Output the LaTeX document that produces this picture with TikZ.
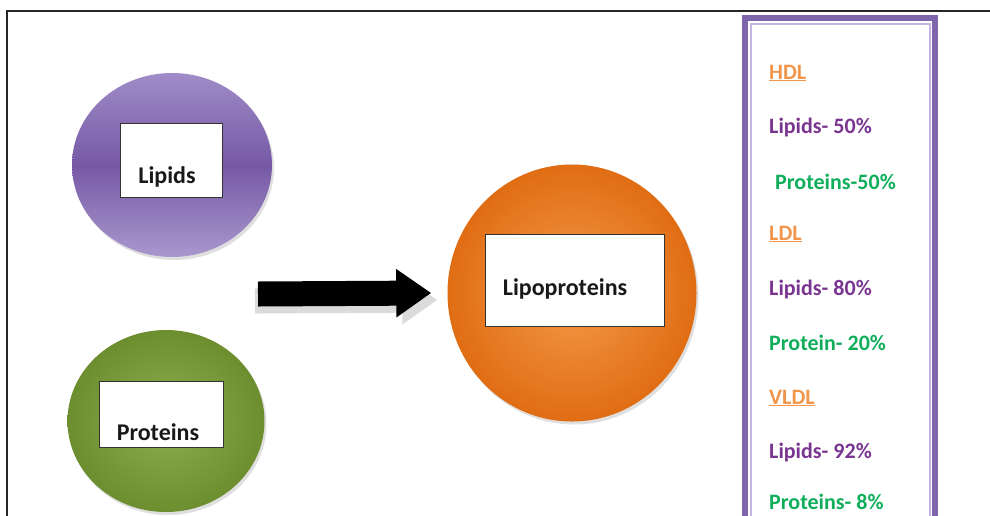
\documentclass[tikz,border=0pt]{standalone}
\usepackage{fontspec}
\setmainfont{Carlito}
\usepackage{xcolor}
\usetikzlibrary{arrows.meta,shapes.geometric,shadows}
\definecolor{lipidlight}{HTML}{A08CC8}
\definecolor{lipiddark}{HTML}{7659A6}
\definecolor{protlight}{HTML}{8DAF4E}
\definecolor{protdark}{HTML}{6C8E2E}
\definecolor{lipolight}{HTML}{F49A48}
\definecolor{lipodark}{HTML}{E06D14}
\definecolor{framepurple}{HTML}{7F66AC}
\definecolor{framelight}{HTML}{C4B4E0}
\definecolor{hdlorange}{HTML}{F0954A}
\definecolor{lippurple}{HTML}{7A3590}
\definecolor{progreen}{HTML}{0FAE5A}

\begin{document}
\begin{tikzpicture}[x=1pt,y=-1pt,
  ball/.style={ellipse,inner sep=0pt,drop shadow={opacity=.25,shadow xshift=2pt,shadow yshift=-3pt}},
  namebox/.style={draw=black!80,line width=.9pt,fill=white,inner sep=0pt},
  nametext/.style={font=\bfseries\fontsize{24}{28}\selectfont,inner sep=0pt,text=black!90},
  listentry/.style={font=\bfseries\fontsize{22}{26}\selectfont,inner sep=0pt,anchor=west}]
\clip (0,0) rectangle (990,515);
\draw [line width=1.3pt,black!85] (7,520) -- (7,11) -- (995,11);

\node [ball,minimum width=200pt,minimum height=184pt,top color=lipidlight,bottom color=lipidlight!90,middle color=lipiddark] (lipids) at (172,165) {};
\node [ball,minimum width=197pt,minimum height=182pt,inner color=protlight,outer color=protdark] (proteins) at (166,421) {};
\node [ball,minimum width=249pt,minimum height=257pt,inner color=lipolight,outer color=lipodark] (lipo) at (572,293) {};

\node [namebox,minimum width=102pt,minimum height=74pt] (lipidsbox) at (171,160) {};
\node [nametext] (lipidsname) at (167,177) {Lipids};
\node [namebox,minimum width=124pt,minimum height=66pt] (proteinsbox) at (161,414) {};
\node [nametext] (proteinsname) at (158,432) {Proteins};
\node [namebox,minimum width=179pt,minimum height=92pt] (lipobox) at (574.5,280) {};
\node [nametext] (liponame) at (565,289) {Lipoproteins};

\coordinate (arrowtail) at (258,294);
\coordinate (arrowtip) at ([xshift=-16pt]lipo.west);
\draw [black!14,line width=25pt,-{Triangle[length=35pt,width=46pt]}] ([shift={(-3pt,-7pt)}]arrowtail) -- ([shift={(6pt,-7pt)}]arrowtip);
\draw [black,line width=25pt,-{Triangle[length=35pt,width=46pt]}] (arrowtail) -- (arrowtip);

\draw [line width=6pt,framepurple] (745,18) rectangle (935,540);
\draw [line width=2pt,framelight] (750.5,23.5) rectangle (929.5,540);

\node [listentry,text=hdlorange] (hdl) at (769,73) {\underline{HDL}};
\node [listentry,text=lippurple] (hdllip) at (769,128) {Lipids- 50\%};
\node [listentry,text=progreen] (hdlpro) at (775,182) {Proteins-50\%};
\node [listentry,text=hdlorange] (ldl) at (769,234) {\underline{LDL}};
\node [listentry,text=lippurple] (ldllip) at (769,290) {Lipids- 80\%};
\node [listentry,text=progreen] (ldlpro) at (769,343) {Protein- 20\%};
\node [listentry,text=hdlorange] (vldl) at (769,398) {\underline{VLDL}};
\node [listentry,text=lippurple] (vldllip) at (769,453) {Lipids- 92\%};
\node [listentry,text=progreen] (vldlpro) at (769,502) {Proteins- 8\%};
\end{tikzpicture}
\end{document}
